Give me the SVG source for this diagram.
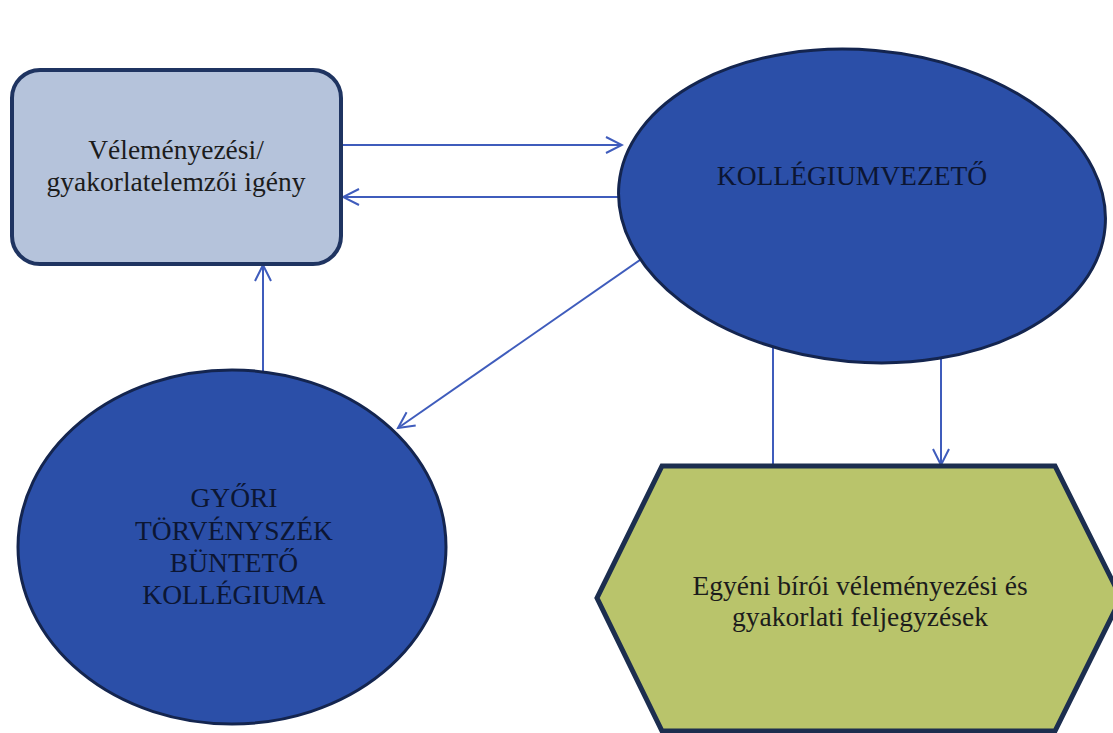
<svg xmlns="http://www.w3.org/2000/svg" width="1113" height="733" viewBox="0 0 1113 733">
<defs>
<marker id="arr" viewBox="0 0 20 20" refX="18" refY="10" markerWidth="20" markerHeight="20" markerUnits="userSpaceOnUse" orient="auto">
<path d="M2,2 L18,10 L2,18" fill="none" stroke="#3f5cbc" stroke-width="2"/>
</marker>
<style>
.con{fill:none;stroke:#3f5cbc;stroke-width:2}
.t{font-family:"Liberation Serif","Times New Roman",serif;font-size:27.5px;fill:#1c1c1c;text-anchor:middle}
.tc{font-family:"Liberation Serif","Times New Roman",serif;font-size:27.5px;fill:#0c1633;text-anchor:middle}
.ell{fill:#2b4fa8;stroke:#14254f;stroke-width:3}
</style>
</defs>
<rect width="1113" height="733" fill="#ffffff"/>
<g id="connectors">
<line class="con" x1="343" y1="145" x2="622" y2="145" marker-end="url(#arr)"/>
<line class="con" x1="630" y1="197" x2="343" y2="197" marker-end="url(#arr)"/>
<line class="con" x1="263" y1="380" x2="263" y2="265" marker-end="url(#arr)"/>
<line class="con" x1="650" y1="253" x2="398" y2="428" marker-end="url(#arr)"/>
<line class="con" x1="773" y1="340" x2="773" y2="466"/>
<line class="con" x1="941" y1="340" x2="941" y2="465" marker-end="url(#arr)"/>
</g>
<g id="node-igeny">
<rect x="12" y="70" width="329" height="194" rx="28" ry="28" fill="#b5c3db" stroke="#1f3461" stroke-width="4"/>
<text class="t" x="176" y="159">Véleményezési/</text>
<text class="t" x="176" y="191">gyakorlatelemzői igény</text>
</g>
<g id="node-kollegiumvezeto">
<ellipse class="ell" cx="862" cy="206" rx="244" ry="156" transform="rotate(5 862 206)"/>
<text class="tc" x="852" y="185">KOLLÉGIUMVEZETŐ</text>
</g>
<g id="node-kollegium">
<ellipse class="ell" cx="232" cy="547" rx="214" ry="177"/>
<text class="tc" x="234" y="507">GYŐRI</text>
<text class="tc" x="234" y="540">TÖRVÉNYSZÉK</text>
<text class="tc" x="234" y="572">BÜNTETŐ</text>
<text class="tc" x="234" y="604">KOLLÉGIUMA</text>
</g>
<g id="node-feljegyzesek">
<polygon points="662,466 1055,466 1121,598 1055,731 662,731 597,598" fill="#b9c46b" stroke="#1c2e4f" stroke-width="5" stroke-linejoin="miter"/>
<text class="t" x="860" y="595">Egyéni bírói véleményezési és</text>
<text class="t" x="860" y="626">gyakorlati feljegyzések</text>
</g>
</svg>
